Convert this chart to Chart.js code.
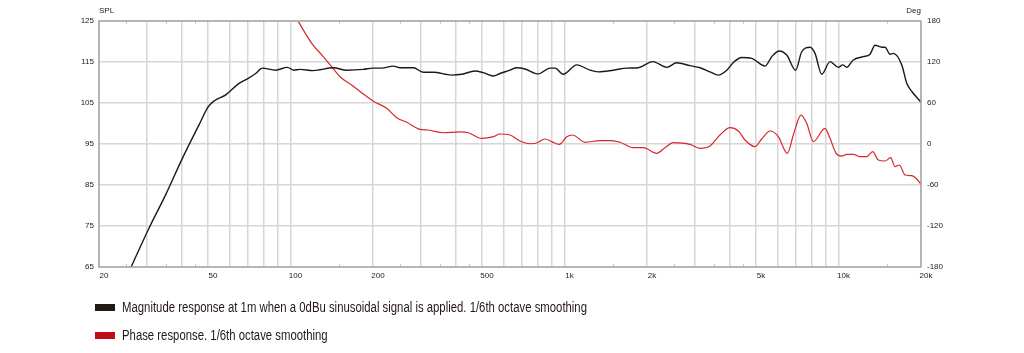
<!DOCTYPE html>
<html>
<head>
<meta charset="utf-8">
<script src="https://cdn.jsdelivr.net/npm/chart.js@4"></script>
<style>
  body { margin: 0; background: #fff; }
  #wrap { position: relative; width: 1024px; height: 353px; overflow: hidden; }
  .legend-row {
    position: absolute; left: 95px; height: 16px;
    display: flex; align-items: center; white-space: nowrap;
    font-family: "Liberation Sans", Arial, sans-serif; font-size: 14px; color: #231815;
  }
  .sw { width: 20px; height: 7px; margin-right: 7px; flex: none; }
  .txt { display: inline-block; transform-origin: left center; }
</style>
</head>
<body>
<div id="wrap">
  <canvas id="fr" width="1024" height="353"></canvas>
  <div class="legend-row" style="top:299px"><span class="sw" style="background:#231815"></span><span class="txt">Magnitude response at 1m when a 0dBu sinusoidal signal is applied. 1/6th octave smoothing</span></div>
  <div class="legend-row" style="top:327px"><span class="sw" style="background:#c00d1a"></span><span class="txt">Phase response. 1/6th octave smoothing</span></div>
</div>
<script>
// magnitude (SPL, dB)
const magFreq = [26.2, 30.4, 35.0, 40.3, 46.3, 50.1, 52.6, 58.0, 64.9, 69.6, 74.6, 78.9, 88.3, 97.3, 103, 108.3, 121, 143.3, 160.3, 184.4,
  200, 215, 237, 251, 281, 305, 332, 387, 422, 471, 505, 550, 581, 632, 669, 717, 802, 885, 923, 990,
  1108, 1239, 1329, 1507, 1687, 1860, 2099, 2361, 2567, 2871, 3122, 3396, 3641, 3909, 4132, 4433, 4822, 5394, 5703, 6081,
  6472, 6977, 7339, 7874, 8208, 8684, 9311, 9986, 10355, 10711, 11324, 12303, 13030, 13590, 14380, 14780, 15420, 15850, 17010, 17740,
  18520, 20000];
const magSpl = [65, 74.4, 82.6, 91.5, 99.6, 104.1, 105.5, 107.0, 109.8, 110.9, 112.2, 113.5, 113.0, 113.7, 113.0, 113.2, 112.9, 113.6, 113.0, 113.2,
  113.5, 113.5, 114.0, 113.6, 113.6, 112.5, 112.5, 111.8, 112.0, 112.8, 112.4, 111.6, 112.2, 113.0, 113.6, 113.3, 112.1, 113.5, 113.5, 112.0,
  114.3, 113.0, 112.6, 113.0, 113.5, 113.6, 115.1, 113.7, 114.8, 114.1, 113.6, 112.6, 111.8, 113.0, 114.9, 116.1, 115.9, 114.0, 116.3, 117.7,
  116.7, 113.0, 117.5, 118.6, 117.1, 112.0, 115.1, 113.7, 114.3, 113.7, 115.5, 116.3, 116.9, 119.1, 118.6, 118.6, 116.9, 117.1, 114.3, 109.8,
  107.8, 105.2];

// phase (degrees)
const phaseFreq = [106.8, 119.5, 131.7, 141.3, 151.6, 167.2, 184.4, 200, 224.4, 244, 265.5, 297, 318, 361, 416, 446, 498.6, 550, 581, 632,
  688, 748, 792, 849, 898, 957, 1019, 1071, 1188, 1348, 1486, 1594, 1783, 1939, 2170, 2327, 2494, 2871, 3122, 3396,
  3693, 4019, 4309, 4557, 4957, 5243, 5624, 6030, 6502, 6841, 7296, 7652, 8094, 8926, 9311, 9794, 10270, 10711, 11324, 11980,
  12670, 13330, 13970, 14780, 15500, 16070, 16680, 17490, 18520, 19180, 20000];
const phaseDeg = [179, 147.4, 127.8, 113.1, 98.5, 86.3, 73.2, 62.9, 52.2, 38.5, 31.8, 21.5, 20.5, 16.5, 17.6, 16.5, 8.3, 10.7, 14.6, 13.2,
  4.4, 0.4, 1.4, 7.3, 3.4, -0.5, 10.7, 13.2, 2.5, 4.9, 4.9, 2.5, -5.4, -5.4, -13.6, -5.4, 1.9, -0.5, -6.3, -2.9,
  13.2, 23.9, 19.0, 5.9, -3.9, 7.3, 19.0, 10.7, -13.6, 13.2, 42.4, 30.3, 3.4, 23.0, 8.3, -13.6, -17.6, -15.1, -15.1, -18.6,
  -18.6, -11.3, -23.4, -24.9, -20.0, -33.2, -30.7, -45.4, -46.4, -50.2, -59];

// axes
const gridFreqs = [20, 30, 40, 50, 60, 70, 80, 90, 100, 200, 300, 400, 500, 600, 700, 800, 900,
  1000, 2000, 3000, 4000, 5000, 6000, 7000, 8000, 9000, 10000, 20000];
const labelFreqs = [20, 50, 100, 200, 500, 1000, 2000, 5000, 10000, 20000];
const labelText = ['20', '50', '100', '200', '500', '1k', '2k', '5k', '10k', '20k'];
const minorFreqs = [25, 35, 45, 150, 250, 350, 450, 1500, 2500, 3500, 4500, 15000];

const FONT = '"Liberation Sans", Arial, sans-serif';

const framePlugin = {
  id: 'frame',
  afterDraw(chart) {
    const { ctx, chartArea: a, scales } = chart;
    ctx.save();
    ctx.strokeStyle = '#c4c4c4';
    ctx.lineWidth = 1;
    minorFreqs.forEach(f => {
      const x = Math.round(scales.x.getPixelForValue(f)) + 0.5;
      ctx.beginPath();
      ctx.moveTo(x, a.top); ctx.lineTo(x, a.top + 3);
      ctx.moveTo(x, a.bottom); ctx.lineTo(x, a.bottom - 3);
      ctx.stroke();
    });
    ctx.strokeStyle = '#a8a8a8';
    ctx.lineWidth = 1.5;
    ctx.strokeRect(a.left, a.top, a.right - a.left, a.bottom - a.top);
    ctx.fillStyle = '#222';
    ctx.font = '8px ' + FONT;
    ctx.textBaseline = 'middle';
    ctx.textAlign = 'left';
    ctx.fillText('SPL', a.left, 11);
    ctx.textAlign = 'right';
    ctx.fillText('Deg', a.right, 11);
    ctx.restore();
  }
};

const tickFont = { family: FONT, size: 8 };

new Chart(document.getElementById('fr'), {
  type: 'line',
  data: {
    datasets: [
      {
        label: 'Magnitude',
        data: magFreq.map((f, i) => ({ x: f, y: magSpl[i] })),
        borderColor: '#1a1a1a',
        borderWidth: 1.4,
        pointRadius: 0,
        cubicInterpolationMode: 'monotone',
        yAxisID: 'y'
      },
      {
        label: 'Phase',
        data: phaseFreq.map((f, i) => ({ x: f, y: phaseDeg[i] })),
        borderColor: '#d8262c',
        borderWidth: 1.2,
        pointRadius: 0,
        cubicInterpolationMode: 'monotone',
        yAxisID: 'y1'
      }
    ]
  },
  options: {
    responsive: false,
    animation: false,
    layout: { padding: { top: 21, left: 0, right: 0, bottom: 66 } },
    plugins: { legend: { display: false }, tooltip: { enabled: false } },
    scales: {
      x: {
        type: 'logarithmic',
        min: 20,
        max: 20000,
        afterBuildTicks: s => { s.ticks = gridFreqs.map(v => ({ value: v })); },
        afterFit: s => { s.height = 20; },
        grid: { color: '#d6d6d6', lineWidth: 1.5, drawTicks: false },
        border: { display: false },
        ticks: {
          autoSkip: false, maxRotation: 0, minRotation: 0, padding: 4, labelOffset: 5,
          color: '#222', font: tickFont,
          callback: v => {
            const i = labelFreqs.indexOf(v);
            return i >= 0 ? labelText[i] : '';
          }
        }
      },
      y: {
        position: 'left',
        min: 65, max: 125,
        afterFit: s => { s.width = 99; },
        grid: { color: '#d6d6d6', lineWidth: 1.5, drawTicks: false },
        border: { display: false },
        ticks: { stepSize: 10, padding: 5, color: '#222', font: tickFont }
      },
      y1: {
        position: 'right',
        min: -180, max: 180,
        afterFit: s => { s.width = 103; },
        grid: { drawOnChartArea: false, drawTicks: false },
        border: { display: false },
        ticks: { stepSize: 60, padding: 6, color: '#222', font: tickFont }
      }
    }
  },
  plugins: [framePlugin]
});

// squeeze legend text to the narrow face of the original
const txt = document.querySelectorAll('.txt');
const k = 465 / txt[0].getBoundingClientRect().width;
txt.forEach(t => { t.style.transform = 'scaleX(' + k + ')'; });
</script>
</body>
</html>
